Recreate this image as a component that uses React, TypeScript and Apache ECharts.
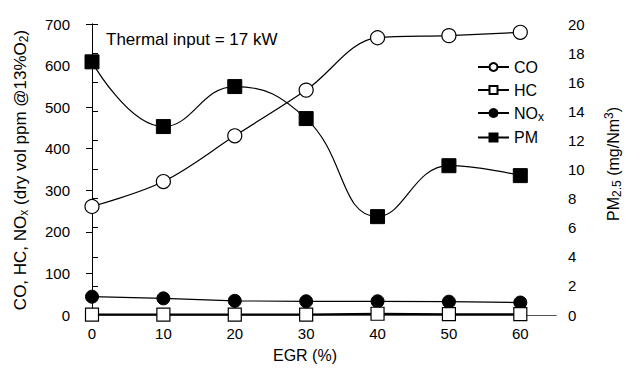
import React, { useEffect, useRef } from "react";
import * as echarts from "echarts";

// EGR rate (%) on the x axis
const egr = [0, 10, 20, 30, 40, 50, 60];
// Emissions, dry vol ppm @13% O2 (left axis)
const co = [261, 321, 431, 541, 667, 672, 680];
const hc = [1, 1, 1, 1, 3, 2, 2];
const nox = [44, 40, 34, 33, 33, 32, 30];
// PM2.5, mg/Nm3 (right axis)
const pm = [17.4, 12.95, 15.7, 13.5, 6.76, 10.26, 9.58];

const FONT = "'Liberation Sans', Arial, sans-serif";
const INK = "#000";

const pairs = (ys: number[]) => egr.map((x, i) => [x, ys[i]]);

export default function App() {
  const ref = useRef<HTMLDivElement>(null);

  useEffect(() => {
    if (!ref.current) return;
    document.body.style.margin = "0";
    const chart = echarts.init(ref.current, undefined, { renderer: "svg" });

    const lineStyle = { color: INK, width: 1.2 };

    chart.setOption({
      animation: false,
      backgroundColor: "#fff",
      textStyle: { fontFamily: FONT, color: INK },
      grid: { left: 92, right: 69, top: 24, bottom: 54 },
      xAxis: [
        {
          type: "value",
          min: 0,
          max: 65,
          interval: 10,
          axisLine: { show: true, lineStyle: { color: INK, width: 1 } },
          axisTick: { show: false },
          splitLine: { show: false },
          axisLabel: {
            margin: 11,
            fontSize: 15,
            color: INK,
            fontFamily: FONT,
            formatter: (v: number) => (v % 10 === 0 && v <= 60 ? String(v) : ""),
          },
        },
        {
          type: "value",
          position: "top",
          min: 0,
          max: 65,
          axisLine: { show: true, lineStyle: { color: "#555", width: 1 } },
          axisTick: { show: false },
          axisLabel: { show: false },
          splitLine: { show: false },
        },
      ],
      yAxis: [
        {
          type: "value",
          min: 0,
          max: 700,
          interval: 100,
          axisLine: { show: true, lineStyle: { color: INK, width: 1 } },
          axisTick: { show: true, length: 6, lineStyle: { color: INK } },
          splitLine: { show: false },
          axisLabel: { margin: 22, fontSize: 15, color: INK, fontFamily: FONT },
        },
        {
          type: "value",
          position: "right",
          min: 0,
          max: 20,
          interval: 2,
          axisLine: { show: true, lineStyle: { color: INK, width: 1 } },
          axisTick: { show: true, length: 6, lineStyle: { color: INK } },
          splitLine: { show: false },
          axisLabel: { margin: 12, fontSize: 15, color: INK, fontFamily: FONT },
        },
      ],
      legend: {
        orient: "vertical",
        left: 472,
        top: 54,
        itemWidth: 31,
        itemHeight: 10,
        itemGap: 7,
        textStyle: {
          fontSize: 16,
          color: INK,
          fontFamily: FONT,
          rich: {
            sub: { fontSize: 12, verticalAlign: "bottom", padding: [7, 0, 0, 0], fontFamily: FONT, color: INK },
          },
        },
        formatter: (name: string) => (name === "NOx" ? "NO{sub|x}" : name),
        data: ["CO", "HC", "NOx", "PM"],
      },
      series: [
        {
          name: "PM",
          type: "line",
          yAxisIndex: 1,
          data: pairs(pm),
          smooth: 0.45,
          symbol: "rect",
          symbolSize: 14,
          itemStyle: { color: INK, borderColor: INK, borderWidth: 1 },
          lineStyle,
          z: 2,
        },
        {
          name: "HC",
          type: "line",
          data: pairs(hc),
          symbol: "rect",
          symbolSize: 13,
          itemStyle: { color: "#fff", borderColor: INK, borderWidth: 1.2 },
          lineStyle: { color: INK, width: 2 },
          z: 3,
        },
        {
          name: "NOx",
          type: "line",
          data: pairs(nox),
          symbol: "circle",
          symbolSize: 13,
          itemStyle: { color: INK, borderColor: INK, borderWidth: 1 },
          lineStyle,
          z: 2,
        },
        {
          name: "CO",
          type: "line",
          data: pairs(co),
          smooth: 0.35,
          symbol: "circle",
          symbolSize: 14,
          itemStyle: { color: "#fff", borderColor: INK, borderWidth: 1.2 },
          lineStyle,
          z: 4,
        },
      ],
      graphic: [
        {
          type: "text",
          left: 106,
          top: 31,
          style: { text: "Thermal input = 17 kW", font: `17px ${FONT}`, fill: INK },
        },
        {
          type: "text",
          x: 305,
          y: 355,
          style: {
            text: "EGR (%)",
            font: `16px ${FONT}`,
            fill: INK,
            align: "center",
            verticalAlign: "middle",
          },
        },
        {
          type: "text",
          x: 20,
          y: 170,
          rotation: Math.PI / 2,
          style: {
            text: "CO, HC, NO{sub|x} (dry vol ppm @13%O{sub|2})",
            font: `17px ${FONT}`,
            fill: INK,
            align: "center",
            verticalAlign: "middle",
            rich: {
              sub: { fontSize: 12, verticalAlign: "bottom", padding: [8, 0, 0, 0], fontFamily: FONT, fill: INK },
            },
          },
        },
        {
          type: "text",
          x: 613,
          y: 164,
          rotation: Math.PI / 2,
          style: {
            text: "PM{sub|2.5} (mg/Nm{sup|3})",
            font: `16px ${FONT}`,
            fill: INK,
            align: "center",
            verticalAlign: "middle",
            rich: {
              sub: { fontSize: 12, verticalAlign: "bottom", padding: [8, 0, 0, 0], fontFamily: FONT, fill: INK },
              sup: { fontSize: 12, verticalAlign: "top", padding: [0, 0, 6, 0], fontFamily: FONT, fill: INK },
            },
          },
        },
      ],
    });

    return () => chart.dispose();
  }, []);

  return <div ref={ref} style={{ width: 625, height: 369 }} />;
}
